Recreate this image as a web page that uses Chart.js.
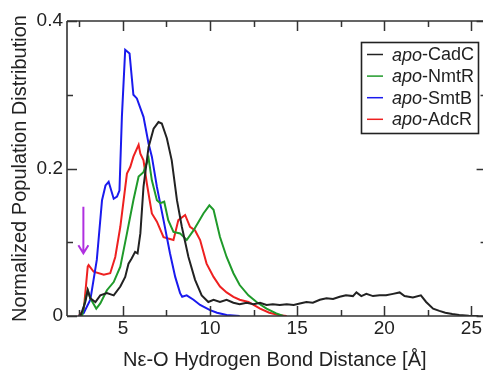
<!DOCTYPE html>
<html>
<head>
<meta charset="utf-8">
<script src="https://cdn.jsdelivr.net/npm/chart.js@4.4.1/dist/chart.umd.min.js"></script>
<style>
  html, body { margin: 0; padding: 0; background: #fff; }
  #wrap { width: 483px; height: 372px; }
</style>
</head>
<body>
<div id="wrap"><canvas id="c" width="483" height="372"></canvas></div>
<script>
// ---- data ----
const seriesLabels = ['-CadC', '-NmtR', '-SmtB', '-AdcR'];
const seriesPrefix = 'apo';

const cadcX = [2.56,2.84,2.98,3.13,3.42,3.7,4.08,4.47,4.85,5.13,5.32,5.5,5.7,5.84,6.0,6.18,6.47,6.76,7.04,7.23,7.52,7.8,8.1,8.38,8.76,9.14,9.52,9.9,10.2,10.57,10.95,11.34,11.7,12.1,12.5,12.87,13.24,13.6,14.0,14.4,14.8,15.15,15.53,15.9,16.3,16.68,17.06,17.44,17.8,18.2,18.4,18.68,18.97,19.35,19.73,20.1,20.5,20.88,21.16,21.64,22.1,22.4,22.8,23.16,23.5,23.9,24.3,24.85,25.4];
const cadcY = [0,0.019,0.035,0.024,0.019,0.028,0.031,0.028,0.040,0.053,0.071,0.078,0.087,0.085,0.112,0.175,0.229,0.254,0.263,0.261,0.241,0.211,0.157,0.121,0.080,0.049,0.028,0.019,0.022,0.019,0.022,0.018,0.016,0.018,0.016,0.018,0.015,0.016,0.015,0.016,0.015,0.017,0.019,0.018,0.022,0.024,0.023,0.026,0.028,0.027,0.032,0.027,0.030,0.027,0.028,0.028,0.030,0.032,0.027,0.025,0.028,0.019,0.010,0.007,0.0045,0.0027,0.0014,0.0005,0];

const nmtrX = [2.65,2.84,2.98,3.13,3.47,3.7,4.08,4.47,4.85,5.23,5.6,5.9,6.18,6.47,6.66,6.95,7.14,7.37,7.6,7.9,8.28,8.66,9.05,9.62,9.96,10.2,10.57,10.95,11.34,11.7,12.2,12.67,13.24,13.8,14.2];
const nmtrY = [0,0.022,0.035,0.024,0.010,0.017,0.035,0.046,0.067,0.112,0.157,0.189,0.195,0.214,0.184,0.157,0.153,0.155,0.130,0.114,0.112,0.103,0.116,0.139,0.150,0.144,0.107,0.080,0.058,0.042,0.028,0.019,0.010,0.0036,0];

const smtbX = [2.46,2.75,3.13,3.5,3.8,4.0,4.18,4.47,4.66,4.8,4.94,5.13,5.38,5.6,5.8,6.18,6.47,6.66,6.95,7.33,7.7,8.0,8.28,8.4,8.66,9.05,9.43,10.0,10.4,10.95,11.7];
const smtbY = [0,0.004,0.022,0.076,0.157,0.177,0.182,0.159,0.162,0.170,0.270,0.361,0.356,0.300,0.295,0.270,0.234,0.216,0.175,0.130,0.085,0.053,0.031,0.026,0.028,0.022,0.015,0.008,0.0045,0.0014,0];

const adcrX = [2.46,2.75,2.98,3.03,3.32,3.9,4.27,4.56,4.85,5.23,5.42,5.6,5.9,6.0,6.18,6.37,6.66,6.95,7.33,7.6,7.9,8.18,8.57,8.85,9.14,9.43,9.8,10.2,10.57,10.95,11.34,11.7,12.2,12.5,12.87,13.4,14.0,14.4];
const adcrY = [0,0.008,0.067,0.069,0.060,0.056,0.058,0.080,0.121,0.193,0.202,0.216,0.232,0.220,0.211,0.180,0.139,0.128,0.107,0.105,0.103,0.130,0.137,0.121,0.116,0.103,0.071,0.053,0.040,0.032,0.026,0.022,0.019,0.015,0.010,0.0045,0.001,0];

const xTickValues = [2.5,5,7.5,10,12.5,15,17.5,20,22.5,25];
const xTickLabels = ['', '5', '', '10', '', '15', '', '20', '', '25'];
const yTickValues = [0,0.1,0.2,0.3,0.4];
const yTickLabels = ['0', '', '0.2', '', '0.4'];
const arrowX = 2.73, arrowYTop = 0.148, arrowYBottom = 0.085;

const colors = ['#222222', '#1f9a2a', '#1a1aee', '#ee2020'];

function pts(xs, ys) { return xs.map((x, i) => ({ x: x, y: ys[i] })); }

const datasets = [
  [cadcX, cadcY], [nmtrX, nmtrY], [smtbX, smtbY], [adcrX, adcrY]
].map((p, i) => ({
  label: seriesPrefix + seriesLabels[i],
  data: pts(p[0], p[1]),
  borderColor: colors[i],
  borderWidth: 2,
  pointRadius: 0,
  tension: 0,
  fill: false
}));

const FONT = "'Liberation Sans', Arial, Helvetica, sans-serif";
const TXT = '#222';

const decorPlugin = {
  id: 'decor',
  afterDatasetsDraw(chart) {
    const { ctx, chartArea: a, scales: { x, y } } = chart;
    const rightBorder = a.right + 4;
    ctx.save();
    ctx.strokeStyle = '#333';
    ctx.lineWidth = 1.6;
    ctx.beginPath();
    ctx.moveTo(a.left, a.top); ctx.lineTo(a.left, a.bottom);
    ctx.moveTo(a.left, a.bottom); ctx.lineTo(chart.width, a.bottom);
    ctx.moveTo(a.left, a.top); ctx.lineTo(chart.width, a.top);
    ctx.stroke();
    ctx.lineWidth = 1.5;
    ctx.beginPath();
    xTickValues.forEach((v, i) => {
      const px = Math.round(x.getPixelForValue(v)) + 0.5;
      const len = xTickLabels[i] ? 10 : 6;
      ctx.moveTo(px, a.bottom); ctx.lineTo(px, a.bottom - len);
      ctx.moveTo(px, a.top); ctx.lineTo(px, a.top + len);
    });
    yTickValues.forEach((v, i) => {
      const py = Math.round(y.getPixelForValue(v)) + 0.5;
      const len = yTickLabels[i] ? 10 : 6;
      ctx.moveTo(a.left, py); ctx.lineTo(a.left + len, py);
      ctx.moveTo(rightBorder, py); ctx.lineTo(rightBorder - len, py);
    });
    ctx.stroke();

    const ax = x.getPixelForValue(arrowX);
    const ay1 = y.getPixelForValue(arrowYTop);
    const ay2 = y.getPixelForValue(arrowYBottom);
    ctx.strokeStyle = '#b030e0';
    ctx.lineWidth = 2;
    ctx.beginPath();
    ctx.moveTo(ax, ay1); ctx.lineTo(ax, ay2);
    ctx.moveTo(ax - 5, ay2 - 8); ctx.lineTo(ax, ay2); ctx.lineTo(ax + 5, ay2 - 8);
    ctx.stroke();

    const lx = 361.5, ly = 42.5, lw = 117, lh = 91;
    ctx.fillStyle = '#fff';
    ctx.fillRect(lx, ly, lw, lh);
    ctx.strokeStyle = '#222';
    ctx.lineWidth = 1.6;
    ctx.strokeRect(lx, ly, lw, lh);
    chart.data.datasets.forEach((ds, i) => {
      const cy = 54.5 + i * 21.6;
      ctx.strokeStyle = ds.borderColor;
      ctx.lineWidth = 1.5;
      ctx.beginPath();
      ctx.moveTo(367, cy); ctx.lineTo(383, cy);
      ctx.stroke();
      ctx.fillStyle = TXT;
      ctx.textBaseline = 'middle';
      ctx.textAlign = 'left';
      ctx.font = 'italic 18px ' + FONT;
      ctx.fillText(seriesPrefix, 392, cy + 1);
      const w = ctx.measureText(seriesPrefix).width;
      ctx.font = '18px ' + FONT;
      ctx.fillText(ds.label.slice(seriesPrefix.length), 392 + w, cy + 1);
    });
    ctx.restore();
  }
};

new Chart(document.getElementById('c'), {
  type: 'line',
  data: { datasets: datasets },
  options: {
    responsive: false,
    animation: false,
    events: [],
    layout: { padding: { top: 21, right: 0, bottom: 0, left: 0 } },
    plugins: { legend: { display: false }, tooltip: { enabled: false } },
    scales: {
      x: {
        type: 'linear',
        min: 1.79,
        max: 25.64,
        border: { display: false },
        grid: { display: false, drawTicks: false },
        afterBuildTicks: (s) => { s.ticks = xTickValues.map(v => ({ value: v })); },
        afterFit: (s) => { s.height = 56; },
        ticks: {
          autoSkip: false,
          maxRotation: 0,
          padding: 1,
          color: TXT,
          font: { family: FONT, size: 19 },
          callback: (v) => { const i = xTickValues.indexOf(v); return i >= 0 ? xTickLabels[i] : ''; }
        },
        title: {
          display: true,
          text: 'Nε-O Hydrogen Bond Distance [Å]',
          color: TXT,
          font: { family: FONT, size: 20 },
          padding: { top: 0, bottom: 0 }
        }
      },
      y: {
        type: 'linear',
        min: 0,
        max: 0.4,
        border: { display: false },
        grid: { display: false, drawTicks: false },
        afterBuildTicks: (s) => { s.ticks = yTickValues.map(v => ({ value: v })); },
        afterFit: (s) => { s.width = 67; },
        ticks: {
          autoSkip: false,
          padding: 4,
          color: TXT,
          font: { family: FONT, size: 19 },
          callback: (v) => { const i = yTickValues.indexOf(v); return i >= 0 ? yTickLabels[i] : ''; }
        },
        title: {
          display: true,
          text: 'Normalized Population Distribution',
          color: TXT,
          font: { family: FONT, size: 20 },
          padding: { top: 8, bottom: 0 }
        }
      }
    }
  },
  plugins: [decorPlugin]
});
</script>
</body>
</html>
